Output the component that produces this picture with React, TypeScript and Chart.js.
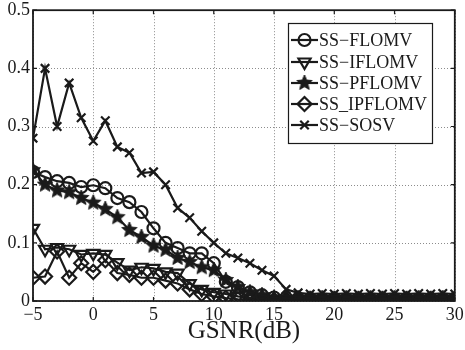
import React, { useEffect, useRef } from 'react';
import { Chart, registerables } from 'chart.js';
import { drawPoint } from 'chart.js/helpers';

Chart.register(...registerables);

const GSNR = [-5, -4, -3, -2, -1, 0, 1, 2, 3, 4, 5, 6, 7, 8, 9, 10, 11, 12, 13, 14, 15, 16, 17, 18, 19, 20, 21, 22, 23, 24, 25, 26, 27, 28, 29, 30];

const SS_FLOMV = [0.222, 0.213, 0.206, 0.203, 0.196, 0.199, 0.194, 0.177, 0.17, 0.153, 0.125, 0.1, 0.091, 0.082, 0.082, 0.065, 0.033, 0.024, 0.015, 0.01, 0.006, 0.005, 0.004, 0.004, 0.003, 0.004, 0.003, 0.004, 0.003, 0.004, 0.003, 0.004, 0.003, 0.004, 0.003, 0.004];
const SS_IFLOMV = [0.125, 0.089, 0.092, 0.089, 0.08, 0.082, 0.08, 0.066, 0.053, 0.058, 0.056, 0.05, 0.048, 0.03, 0.02, 0.015, 0.012, 0.008, 0.005, 0.004, 0.003, 0.003, 0.002, 0.003, 0.002, 0.003, 0.002, 0.003, 0.002, 0.003, 0.002, 0.003, 0.002, 0.003, 0.002, 0.003];
const SS_PFLOMV = [0.225, 0.2, 0.19, 0.187, 0.177, 0.169, 0.158, 0.144, 0.122, 0.11, 0.095, 0.088, 0.074, 0.067, 0.058, 0.053, 0.036, 0.024, 0.015, 0.01, 0.006, 0.005, 0.005, 0.004, 0.005, 0.004, 0.005, 0.004, 0.005, 0.004, 0.005, 0.004, 0.005, 0.004, 0.005, 0.004];
const SS_IPFLOMV = [0.04, 0.042, 0.085, 0.04, 0.065, 0.05, 0.07, 0.048, 0.045, 0.04, 0.04, 0.035, 0.03, 0.02, 0.012, 0.008, 0.005, 0.003, 0.002, 0.002, 0.001, 0.002, 0.001, 0.002, 0.001, 0.002, 0.001, 0.002, 0.001, 0.002, 0.001, 0.002, 0.001, 0.002, 0.001, 0.002];
const SS_SOSV = [0.28, 0.4, 0.3, 0.375, 0.315, 0.275, 0.31, 0.265, 0.255, 0.22, 0.222, 0.2, 0.16, 0.143, 0.12, 0.1, 0.082, 0.074, 0.065, 0.053, 0.043, 0.02, 0.014, 0.012, 0.013, 0.012, 0.013, 0.012, 0.013, 0.012, 0.013, 0.012, 0.013, 0.012, 0.013, 0.012];

const LEGEND_LABELS = ['SS\u2212FLOMV', 'SS\u2212IFLOMV', 'SS\u2212PFLOMV', 'SS_IPFLOMV', 'SS\u2212SOSV'];

const INK = '#1a1a1a';
const FONT = "'Liberation Serif', 'Times New Roman', serif";

function makeStar(r: number): HTMLCanvasElement {
  const s = Math.ceil(r * 2 + 2);
  const c = document.createElement('canvas');
  c.width = s;
  c.height = s;
  const g = c.getContext('2d')!;
  g.beginPath();
  for (let i = 0; i < 10; i++) {
    const rad = i % 2 === 0 ? r : r * 0.45;
    const a = -Math.PI / 2 + (i * Math.PI) / 5;
    g.lineTo(s / 2 + rad * Math.cos(a), s / 2 + rad * Math.sin(a));
  }
  g.closePath();
  g.fillStyle = INK;
  g.fill();
  g.strokeStyle = INK;
  g.lineWidth = 1;
  g.stroke();
  return c;
}

export default function App() {
  const ref = useRef<HTMLCanvasElement | null>(null);

  useEffect(() => {
    document.body.style.margin = '0';
    const canvas = ref.current!;
    const star = makeStar(8);

    const mk = (label: string, vals: number[], style: any, radius: number, rotation = 0) => ({
      label,
      data: GSNR.map((x, i) => ({ x, y: vals[i] })),
      borderColor: INK,
      borderWidth: 2.2,
      pointStyle: style,
      pointRadius: radius,
      pointRotation: rotation,
      pointBorderColor: INK,
      pointBackgroundColor: 'rgba(0,0,0,0)',
      pointBorderWidth: 2.2,
      tension: 0,
      fill: false,
    });

    const datasets = [
      mk(LEGEND_LABELS[0], SS_FLOMV, 'circle', 6),
      mk(LEGEND_LABELS[1], SS_IFLOMV, 'triangle', 7, 180),
      mk(LEGEND_LABELS[2], SS_PFLOMV, star, 8),
      mk(LEGEND_LABELS[3], SS_IPFLOMV, 'rectRot', 7),
      mk(LEGEND_LABELS[4], SS_SOSV, 'crossRot', 6),
    ];

    const gridPlugin = {
      id: 'dotgrid',
      beforeDatasetsDraw(chart: any) {
        const ctx = chart.ctx;
        const a = chart.chartArea;
        const xs = chart.scales.x;
        const ys = chart.scales.y;
        ctx.save();
        ctx.strokeStyle = '#8c8c8c';
        ctx.lineWidth = 1;
        ctx.setLineDash([1, 2]);
        xs.ticks.forEach((t: any) => {
          const px = Math.round(xs.getPixelForValue(t.value)) + 0.5;
          ctx.beginPath();
          ctx.moveTo(px, a.top);
          ctx.lineTo(px, a.bottom);
          ctx.stroke();
        });
        ys.ticks.forEach((t: any) => {
          const py = Math.round(ys.getPixelForValue(t.value)) + 0.5;
          ctx.beginPath();
          ctx.moveTo(a.left, py);
          ctx.lineTo(a.right, py);
          ctx.stroke();
        });
        ctx.restore();
      },
    };

    const framePlugin = {
      id: 'frame',
      afterDraw(chart: any) {
        const ctx = chart.ctx;
        const a = chart.chartArea;
        const xs = chart.scales.x;
        const ys = chart.scales.y;
        ctx.save();
        ctx.strokeStyle = INK;
        ctx.lineWidth = 1.8;
        ctx.strokeRect(a.left, a.top, a.right - a.left, a.bottom - a.top);
        ctx.lineWidth = 1.2;
        const tl = 4;
        xs.ticks.forEach((t: any) => {
          const px = xs.getPixelForValue(t.value);
          ctx.beginPath();
          ctx.moveTo(px, a.bottom);
          ctx.lineTo(px, a.bottom - tl);
          ctx.moveTo(px, a.top);
          ctx.lineTo(px, a.top + tl);
          ctx.stroke();
        });
        ys.ticks.forEach((t: any) => {
          const py = ys.getPixelForValue(t.value);
          ctx.beginPath();
          ctx.moveTo(a.left, py);
          ctx.lineTo(a.left + tl, py);
          ctx.moveTo(a.right, py);
          ctx.lineTo(a.right - tl, py);
          ctx.stroke();
        });

        // legend box
        const bx = 288, by = 23, bw = 144, bh = 120;
        ctx.fillStyle = '#ffffff';
        ctx.fillRect(bx, by, bw, bh);
        ctx.strokeStyle = INK;
        ctx.lineWidth = 1.2;
        ctx.strokeRect(bx + 0.5, by + 0.5, bw, bh);
        const rows = [40, 62, 83, 104, 125];
        chart.data.datasets.forEach((ds: any, i: number) => {
          const y = rows[i];
          ctx.strokeStyle = INK;
          ctx.lineWidth = 2.2;
          ctx.beginPath();
          ctx.moveTo(291, y);
          ctx.lineTo(318, y);
          ctx.stroke();
          ctx.lineWidth = 2.2;
          ctx.fillStyle = 'rgba(0,0,0,0)';
          drawPoint(ctx, { pointStyle: ds.pointStyle, rotation: ds.pointRotation, radius: ds.pointRadius, borderWidth: 2.2 }, 304.5, y);
          ctx.fillStyle = INK;
          ctx.font = `18px ${FONT}`;
          ctx.textBaseline = 'middle';
          ctx.textAlign = 'left';
          ctx.fillText(ds.label, 319, y + 1);
        });
        ctx.restore();
      },
    };

    const chart = new Chart(canvas, {
      type: 'line',
      data: { datasets },
      plugins: [gridPlugin, framePlugin],
      options: {
        animation: false,
        responsive: false,
        layout: { padding: { top: 10, right: 6, left: 0, bottom: 0 } },
        plugins: { legend: { display: false }, tooltip: { enabled: false } },
        scales: {
          x: {
            type: 'linear',
            min: -5,
            max: 30,
            ticks: {
              stepSize: 5,
              color: INK,
              padding: 3,
              font: { family: FONT, size: 18 },
              maxRotation: 0,
              callback: (v: any) => String(v).replace('-', '\u2212'),
            },
            grid: { display: false, drawTicks: false },
            border: { display: false },
            title: {
              display: true,
              text: 'GSNR(dB)',
              color: INK,
              font: { family: FONT, size: 25 },
              padding: { top: 0, bottom: 4 },
            },
            afterFit: (s: any) => {
              s.height = 49;
              s.paddingLeft = 0;
              s.paddingRight = 0;
            },
          },
          y: {
            min: 0,
            max: 0.5,
            ticks: {
              stepSize: 0.1,
              color: INK,
              padding: 3,
              font: { family: FONT, size: 18 },
              callback: (v: any) => String(Math.round(v * 10) / 10),
            },
            grid: { display: false, drawTicks: false },
            border: { display: false },
            afterFit: (s: any) => {
              s.width = 33;
              s.paddingTop = 0;
              s.paddingBottom = 0;
            },
          },
        },
      },
    } as any);

    return () => chart.destroy();
  }, []);

  return (
    <div style={{ position: 'fixed', left: 0, top: 0, width: 465, height: 350, background: '#fff' }}>
      <canvas ref={ref} width={465} height={350} style={{ display: 'block' }} />
    </div>
  );
}
